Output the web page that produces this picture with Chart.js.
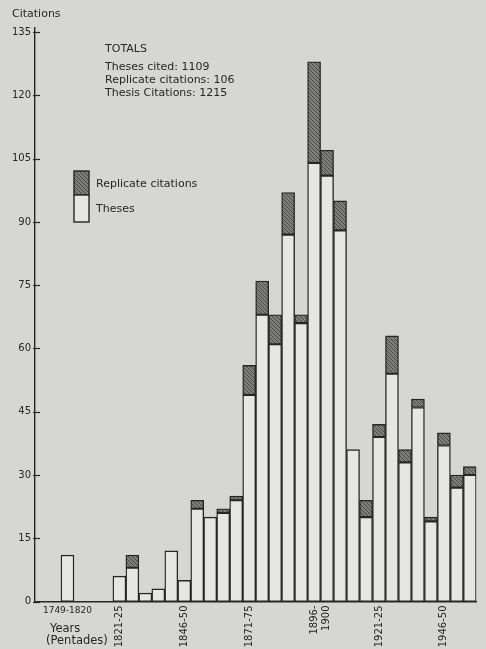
<html>
    <head>
        <title>Thesis citations by pentade</title>
        <script src="https://cdn.jsdelivr.net/npm/chart.js@4/dist/chart.umd.min.js"></script>
        <style>
            body { margin: 0; background: #d6d6d3; }
        </style>
    </head>
    <body>
        <canvas id="myChart" width="486" height="649"></canvas>

        <script>
            // categories: two empty slots, 1749-1820, three empty slots, then pentades 1821-25 .. 1956-60
            var periods = ['', '', '1749-1820', '', '', '',
                '1821-25', '1826-30', '1831-35', '1836-40', '1841-45', '1846-50',
                '1851-55', '1856-60', '1861-65', '1866-70', '1871-75',
                '1876-80', '1881-85', '1886-90', '1891-95', '1896-1900',
                '1901-05', '1906-10', '1911-15', '1916-20', '1921-25',
                '1926-30', '1931-35', '1936-40', '1941-45', '1946-50',
                '1951-55', '1956-60'];

            var theses = [null, null, 11, null, null, null,
                6, 8, 2, 3, 12, 5,
                22, 20, 21, 24, 49,
                68, 61, 87, 66, 104,
                101, 88, 36, 20, 39,
                54, 33, 46, 19, 37,
                27, 30];

            var replicates = [null, null, null, null, null, null,
                null, 3, null, null, null, null,
                2, null, 1, 1, 7,
                8, 7, 10, 2, 24,
                6, 7, null, 4, 3,
                9, 3, 2, 1, 3,
                3, 2];

            // which categories get a rotated tick label, and its text
            var tickAt = [6, 11, 16, 21, 26, 31];
            var tickText = ['1821-25', '1846-50', '1871-75', ['1896-', '1900'], '1921-25', '1946-50'];

            var yTicks = [0, 15, 30, 45, 60, 75, 90, 105, 120, 135];

            var totals = ['TOTALS', 'Theses cited: 1109', 'Replicate citations: 106', 'Thesis Citations: 1215'];

            var ink = '#262626';
            var font = '"DejaVu Sans", sans-serif';

            function hatch() {
                var c = document.createElement('canvas');
                c.width = 4; c.height = 4;
                var g = c.getContext('2d');
                g.fillStyle = '#7d7d7b';
                g.fillRect(0, 0, 4, 4);
                g.strokeStyle = '#4a4a4a';
                g.lineWidth = 1;
                g.beginPath();
                g.moveTo(0, 0); g.lineTo(4, 4);
                g.moveTo(-1, 3); g.lineTo(1, 5);
                g.moveTo(3, -1); g.lineTo(5, 1);
                g.stroke();
                return g.createPattern(c, 'repeat');
            }
            var shade = hatch();

            var extras = {
                id: 'extras',
                beforeDraw: function(chart) {
                    var ctx = chart.ctx;
                    ctx.save();
                    ctx.fillStyle = '#d6d6d3';
                    ctx.fillRect(0, 0, chart.width, chart.height);
                    ctx.restore();
                },
                afterDraw: function(chart) {
                    var ctx = chart.ctx;
                    var y = chart.scales.y, x = chart.scales.x;
                    ctx.save();

                    // tick marks crossing the y axis
                    ctx.strokeStyle = ink;
                    ctx.lineWidth = 1.2;
                    yTicks.forEach(function(v) {
                        var py = Math.round(y.getPixelForValue(v)) + 0.5;
                        ctx.beginPath();
                        ctx.moveTo(y.right - 2, py);
                        ctx.lineTo(y.right + 5, py);
                        ctx.stroke();
                    });

                    ctx.fillStyle = ink;
                    ctx.textBaseline = 'middle';
                    ctx.textAlign = 'left';
                    ctx.font = '11px ' + font;
                    ctx.fillText('Citations', 12, 14);

                    // totals box
                    ctx.font = '11px ' + font;
                    ctx.fillText(totals[0], 105, 49);
                    for (var i = 1; i < totals.length; i++) {
                        ctx.fillText(totals[i], 105, 67 + (i - 1) * 13.3);
                    }

                    // legend: stacked boxes like a bar
                    var ds = chart.data.datasets;
                    ctx.lineWidth = 1.4;
                    ctx.strokeStyle = ink;
                    ctx.fillStyle = ds[1].backgroundColor;
                    ctx.fillRect(74, 171, 15, 24);
                    ctx.strokeRect(74, 171, 15, 24);
                    ctx.fillStyle = ds[0].backgroundColor;
                    ctx.fillRect(74, 195, 15, 27);
                    ctx.strokeRect(74, 195, 15, 27);
                    ctx.fillStyle = ink;
                    ctx.font = '11px ' + font;
                    ctx.fillText(ds[1].label, 96, 184);
                    ctx.fillText(ds[0].label, 96, 209);

                    // horizontal label for the early block and axis name
                    ctx.font = '9px ' + font;
                    ctx.textAlign = 'center';
                    ctx.fillText(periods[2], x.getPixelForValue(2), 611);
                    ctx.textAlign = 'left';
                    ctx.font = '11.5px ' + font;
                    ctx.fillText('Years', 50, 629);
                    ctx.fillText('(Pentades)', 46, 641);

                    ctx.restore();
                }
            };

            var ctx = document.getElementById('myChart').getContext('2d');
            var chart = new Chart(ctx, {
                type: 'bar',
                data: {
                    labels: periods,
                    datasets: [{
                        label: 'Theses',
                        data: theses,
                        backgroundColor: '#e6e6e3',
                        borderColor: ink,
                        borderWidth: 1.4,
                        borderSkipped: false,
                        categoryPercentage: 1,
                        barPercentage: 1
                    }, {
                        label: 'Replicate citations',
                        data: replicates,
                        backgroundColor: shade,
                        borderColor: ink,
                        borderWidth: 1.4,
                        borderSkipped: false,
                        categoryPercentage: 1,
                        barPercentage: 1
                    }]
                },
                options: {
                    responsive: false,
                    animation: false,
                    layout: { padding: { top: 28, right: 9, left: 0, bottom: 0 } },
                    plugins: { legend: { display: false }, tooltip: { enabled: false } },
                    scales: {
                        x: {
                            stacked: true,
                            grid: { display: false, drawTicks: false },
                            border: { display: true, color: ink, width: 1.4 },
                            ticks: {
                                autoSkip: false,
                                minRotation: 90,
                                maxRotation: 90,
                                padding: 4,
                                color: ink,
                                font: { family: font, size: 10 },
                                callback: function(v, i) {
                                    var k = tickAt.indexOf(i);
                                    return k >= 0 ? tickText[k] : '';
                                }
                            },
                            afterFit: function(s) { s.height = 47.5; }
                        },
                        y: {
                            stacked: true,
                            min: 0,
                            max: 136,
                            grid: { display: false, drawTicks: false },
                            border: { display: true, color: ink, width: 1.4 },
                            ticks: {
                                stepSize: 15,
                                padding: 4,
                                color: ink,
                                font: { family: font, size: 10 }
                            },
                            afterBuildTicks: function(s) {
                                s.ticks = yTicks.map(function(v) { return { value: v }; });
                            },
                            afterFit: function(s) { s.width = 35; }
                        }
                    }
                },
                plugins: [extras]
            });
        </script>
    </body>
</html>
